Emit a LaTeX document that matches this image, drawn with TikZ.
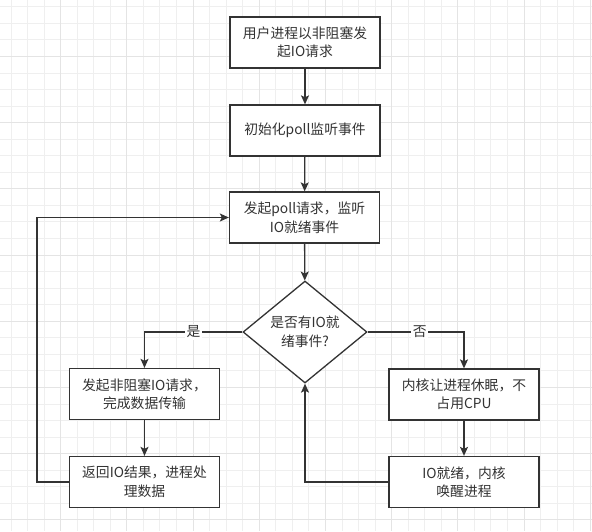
\documentclass[tikz,border=0pt]{standalone}
\usepackage{fontspec}
\setmainfont{Noto Sans CJK SC}
\usetikzlibrary{shapes.geometric,arrows.meta}
\definecolor{ink}{HTML}{333333}
\definecolor{gridminor}{HTML}{EFEFEF}
\definecolor{gridmajor}{HTML}{E4E4E4}
\begin{document}
\begin{tikzpicture}[x=1pt,y=-1pt,
  box/.style={draw=ink,line width=1.3pt,fill=white,minimum width=150pt,minimum height=51pt,
    align=center,font=\fontsize{13.8}{18.5}\selectfont,text=ink,inner sep=2pt},
  dec/.style={draw=ink,line width=1.3pt,fill=white,shape=diamond,aspect=1.2157,
    minimum width=124pt,minimum height=102pt,inner sep=0pt,align=center,
    font=\fontsize{13.8}{18.5}\selectfont,text=ink},
  arr/.style={draw=ink,line width=1.3pt,-{Stealth[length=9pt,width=8pt,inset=2pt]}},
  lbl/.style={fill=white,text=ink,font=\fontsize{13.8}{15}\selectfont,inner sep=1.5pt}]
\useasboundingbox (0,0) rectangle (592,531);
\fill[white] (0,0) rectangle (592,531);
\foreach \i in {0,...,35} {
  \pgfmathsetmacro{\gx}{11+16.55*\i}
  \pgfmathsetmacro{\gy}{6.8+16.55*\i}
  \draw[gridminor,line width=1pt] (\gx,0) -- (\gx,531);
  \draw[gridminor,line width=1pt] (0,\gy) -- (592,\gy);
}
\foreach \i in {0,...,8} {
  \pgfmathsetmacro{\gx}{11+16.55*(3+4*\i)}
  \pgfmathsetmacro{\gy}{6.8+16.55*(3+4*\i)}
  \draw[gridmajor,line width=1pt] (\gx,0) -- (\gx,531);
  \draw[gridmajor,line width=1pt] (0,\gy) -- (592,\gy);
}
\node[box] (b1) at (305,42.5) {用户进程以非阻塞发\\起IO请求};
\node[box] (b2) at (305,130.5) {初始化poll监听事件};
\node[box] (b3) at (304.5,217.5) {发起poll请求，监听\\IO就绪事件};
\node[dec] (dia) at (305,332) {是否有IO就\\绪事件?};
\node[box] (L1) at (144.5,394) {发起非阻塞IO请求，\\完成数据传输};
\node[box] (L2) at (144.5,482) {返回IO结果，进程处\\理数据};
\node[box] (R1) at (464,394.5) {内核让进程休眠，不\\占用CPU};
\node[box] (R2) at (464,482) {IO就绪，内核\\唤醒进程};
\coordinate (lft) at (37,482);
\draw[arr] (b1) -- (b2);
\draw[arr] (b2) -- (b3);
\draw[arr] (b3) -- (dia);
\draw[arr] (dia.west) -| (L1.north) node[lbl,pos=0.25] {是};
\draw[arr] (dia.east) -| (R1.north) node[lbl,pos=0.27] {否};
\draw[arr] (L1) -- (L2);
\draw[arr] (R1) -- (R2);
\draw[arr] (L2.west) -- (lft) |- (b3.west);
\draw[arr] (R2.west) -| (dia.south);
\end{tikzpicture}
\end{document}
